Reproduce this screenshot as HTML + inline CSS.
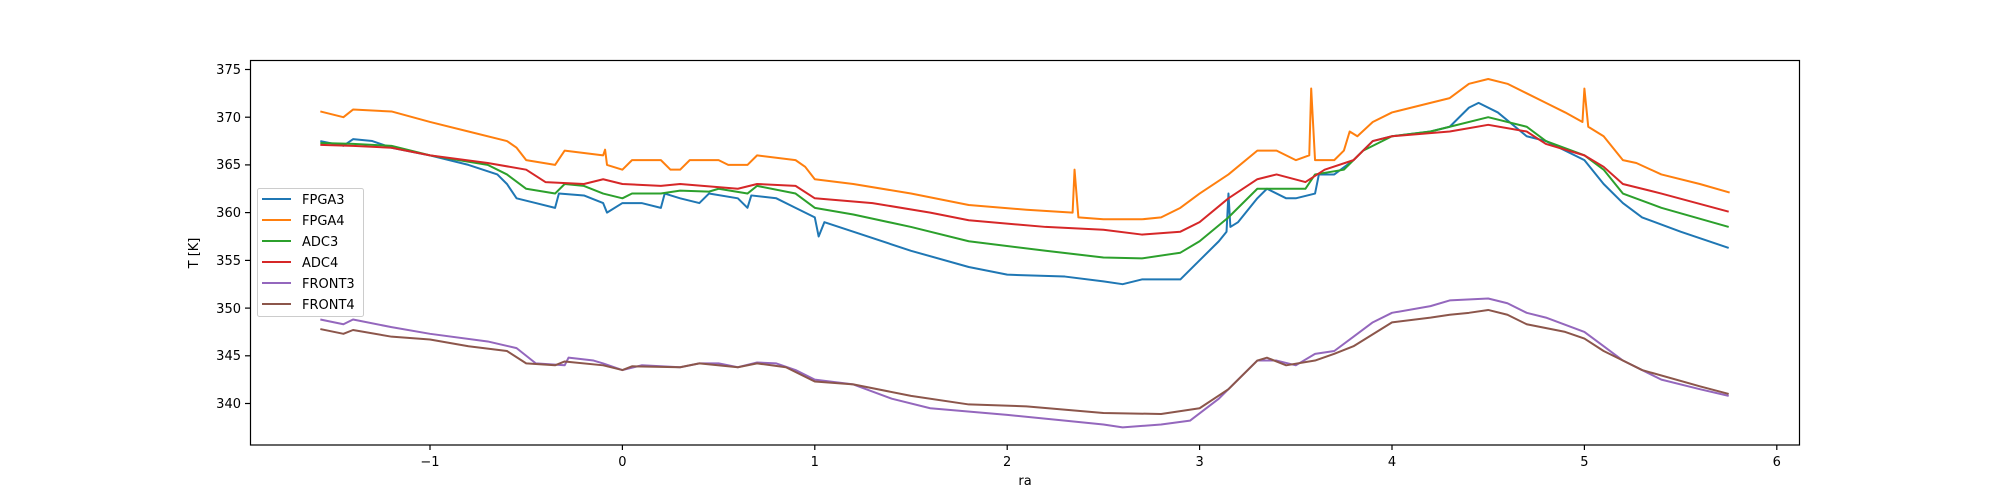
<!DOCTYPE html>
<html><head><meta charset="utf-8"><style>
body{margin:0;background:#fff}
svg{display:block;font-family:"DejaVu Sans","Liberation Sans",sans-serif}
</style></head><body>
<svg width="2000" height="500" viewBox="0 0 2000 500" xmlns="http://www.w3.org/2000/svg">
<rect width="2000" height="500" fill="#fff"/>
<g fill="none" stroke-width="2" stroke-linejoin="round" transform="matrix(192.4,0,0,-9.543,622.4,3648.1)">
<polyline vector-effect="non-scaling-stroke" stroke="#1f77b4" points="-1.57,367.5 -1.45,367 -1.4,367.7 -1.3,367.5 -1.2,366.8 -1,366 -0.8,365 -0.65,364 -0.6,363 -0.55,361.5 -0.45,361 -0.35,360.5 -0.33,362 -0.2,361.8 -0.1,361 -0.08,360 0,361 0.1,361 0.2,360.5 0.22,362 0.3,361.5 0.4,361 0.45,362 0.6,361.5 0.65,360.5 0.67,361.8 0.8,361.5 0.9,360.5 1,359.5 1.02,357.5 1.05,359 1.2,358 1.5,356 1.8,354.3 2,353.5 2.3,353.3 2.5,352.8 2.6,352.5 2.7,353 2.9,353 3,355 3.1,357 3.14,358 3.15,362 3.16,358.5 3.2,359 3.3,361.5 3.35,362.5 3.45,361.5 3.5,361.5 3.6,362 3.62,364 3.7,364 3.8,365.5 3.9,367.5 4,368 4.2,368.5 4.3,369 4.4,371 4.45,371.5 4.55,370.5 4.7,368 4.8,367.5 4.9,366.5 5,365.5 5.1,363 5.2,361 5.3,359.5 5.5,358 5.75,356.3"/>
<polyline vector-effect="non-scaling-stroke" stroke="#ff7f0e" points="-1.57,370.6 -1.45,370 -1.4,370.8 -1.2,370.6 -1,369.5 -0.8,368.5 -0.6,367.5 -0.55,366.8 -0.5,365.5 -0.35,365 -0.3,366.5 -0.1,366 -0.09,366.6 -0.08,365 0,364.5 0.05,365.5 0.2,365.5 0.25,364.5 0.3,364.5 0.35,365.5 0.5,365.5 0.55,365 0.65,365 0.7,366 0.9,365.5 0.95,364.8 1,363.5 1.2,363 1.5,362 1.8,360.8 2.1,360.3 2.34,360 2.35,364.5 2.37,359.5 2.5,359.3 2.7,359.3 2.8,359.5 2.9,360.5 3,362 3.15,364 3.3,366.5 3.4,366.5 3.5,365.5 3.57,366 3.58,373 3.6,365.5 3.7,365.5 3.75,366.5 3.78,368.5 3.82,368 3.9,369.5 4,370.5 4.2,371.5 4.3,372 4.4,373.5 4.5,374 4.6,373.5 4.7,372.5 4.8,371.5 4.9,370.5 4.99,369.5 5,373 5.02,369 5.1,368 5.2,365.5 5.27,365.2 5.4,364 5.6,363 5.755,362.1"/>
<polyline vector-effect="non-scaling-stroke" stroke="#2ca02c" points="-1.57,367.3 -1.4,367.2 -1.2,367 -1,366 -0.7,365 -0.6,364 -0.5,362.5 -0.35,362 -0.3,363 -0.2,362.8 -0.1,362 0,361.5 0.05,362 0.2,362 0.3,362.3 0.45,362.2 0.5,362.5 0.65,362 0.7,362.8 0.9,362 1,360.5 1.2,359.8 1.5,358.5 1.8,357 2.2,356 2.5,355.3 2.7,355.2 2.9,355.8 3,357 3.15,359.5 3.3,362.5 3.4,362.5 3.55,362.5 3.6,364 3.75,364.5 3.85,366.5 4,368 4.2,368.5 4.3,369 4.5,370 4.7,369 4.8,367.5 5,366 5.1,364.5 5.2,362 5.4,360.5 5.75,358.5"/>
<polyline vector-effect="non-scaling-stroke" stroke="#d62728" points="-1.57,367.1 -1.4,367 -1.2,366.8 -1,366 -0.7,365.2 -0.5,364.5 -0.4,363.2 -0.2,363 -0.1,363.5 0,363 0.2,362.8 0.3,363 0.6,362.5 0.7,363 0.9,362.8 1,361.5 1.3,361 1.6,360 1.8,359.2 2.2,358.5 2.5,358.2 2.7,357.7 2.9,358 3,359 3.15,361.5 3.3,363.5 3.4,364 3.55,363.2 3.65,364.5 3.8,365.5 3.9,367.5 4,368 4.3,368.5 4.5,369.2 4.7,368.5 4.8,367.2 5,366 5.1,364.8 5.2,363 5.4,362 5.75,360.1"/>
<polyline vector-effect="non-scaling-stroke" stroke="#9467bd" points="-1.57,348.8 -1.45,348.3 -1.4,348.8 -1.2,348 -1,347.3 -0.7,346.5 -0.55,345.8 -0.45,344.2 -0.3,344 -0.28,344.8 -0.15,344.5 -0.1,344.2 0,343.5 0.1,344 0.3,343.8 0.4,344.2 0.5,344.2 0.6,343.8 0.7,344.3 0.8,344.2 0.9,343.5 1,342.5 1.2,342 1.4,340.5 1.6,339.5 2,338.8 2.3,338.2 2.5,337.8 2.6,337.5 2.8,337.8 2.95,338.2 3.1,340.5 3.3,344.5 3.4,344.5 3.5,344 3.6,345.2 3.7,345.5 3.8,347 3.9,348.5 4,349.5 4.2,350.2 4.3,350.8 4.5,351 4.6,350.5 4.7,349.5 4.8,349 5,347.5 5.1,346 5.2,344.5 5.3,343.5 5.4,342.5 5.6,341.5 5.75,340.8"/>
<polyline vector-effect="non-scaling-stroke" stroke="#8c564b" points="-1.57,347.8 -1.45,347.3 -1.4,347.7 -1.2,347 -1,346.7 -0.8,346 -0.6,345.5 -0.5,344.2 -0.35,344 -0.3,344.4 -0.1,344 0,343.5 0.05,343.9 0.3,343.8 0.4,344.2 0.6,343.8 0.7,344.2 0.85,343.8 1,342.3 1.2,342 1.5,340.8 1.8,339.9 2.1,339.7 2.5,339 2.8,338.9 3,339.5 3.15,341.5 3.3,344.5 3.35,344.8 3.45,344 3.6,344.5 3.7,345.2 3.8,346 4,348.5 4.2,349 4.3,349.3 4.4,349.5 4.5,349.8 4.6,349.3 4.7,348.3 4.9,347.5 5,346.8 5.1,345.5 5.2,344.5 5.3,343.5 5.6,341.8 5.75,341"/>
</g>
<rect x="250.5" y="60.5" width="1549" height="384.5" fill="none" stroke="#000" stroke-width="1.2"/>
<g stroke="#000" stroke-width="1.2">
<line x1="245" y1="69.5" x2="250" y2="69.5"/><line x1="245" y1="117.2" x2="250" y2="117.2"/><line x1="245" y1="164.9" x2="250" y2="164.9"/><line x1="245" y1="212.6" x2="250" y2="212.6"/><line x1="245" y1="260.4" x2="250" y2="260.4"/><line x1="245" y1="308.1" x2="250" y2="308.1"/><line x1="245" y1="355.8" x2="250" y2="355.8"/><line x1="245" y1="403.5" x2="250" y2="403.5"/>
<line x1="430" y1="445" x2="430" y2="450"/><line x1="622.4" y1="445" x2="622.4" y2="450"/><line x1="814.8" y1="445" x2="814.8" y2="450"/><line x1="1007.2" y1="445" x2="1007.2" y2="450"/><line x1="1199.6" y1="445" x2="1199.6" y2="450"/><line x1="1392" y1="445" x2="1392" y2="450"/><line x1="1584.4" y1="445" x2="1584.4" y2="450"/><line x1="1776.8" y1="445" x2="1776.8" y2="450"/>
</g>
<g font-size="13" fill="#000" text-anchor="end">
<text x="241" y="74">375</text><text x="241" y="122">370</text><text x="241" y="169">365</text><text x="241" y="217">360</text><text x="241" y="265">355</text><text x="241" y="313">350</text><text x="241" y="360">345</text><text x="241" y="408">340</text>
</g>
<g font-size="13" fill="#000" text-anchor="middle">
<text x="430" y="466">−1</text><text x="622.4" y="466">0</text><text x="814.8" y="466">1</text><text x="1007.2" y="466">2</text><text x="1199.6" y="466">3</text><text x="1392" y="466">4</text><text x="1584.4" y="466">5</text><text x="1776.8" y="466">6</text>
<text x="1025" y="485">ra</text>
<text transform="translate(198,253) rotate(-90)">T [K]</text>
</g>
<rect x="257.5" y="188.5" width="106" height="128" rx="2" fill="#fff" fill-opacity="0.8" stroke="#ccc"/>
<g stroke-width="2">
<line x1="262" y1="199" x2="291" y2="199" stroke="#1f77b4"/>
<line x1="262" y1="220" x2="291" y2="220" stroke="#ff7f0e"/>
<line x1="262" y1="241" x2="291" y2="241" stroke="#2ca02c"/>
<line x1="262" y1="262" x2="291" y2="262" stroke="#d62728"/>
<line x1="262" y1="283" x2="291" y2="283" stroke="#9467bd"/>
<line x1="262" y1="304" x2="291" y2="304" stroke="#8c564b"/>
</g>
<g font-size="13" fill="#000">
<text x="302" y="204">FPGA3</text><text x="302" y="225">FPGA4</text><text x="302" y="246">ADC3</text><text x="302" y="267">ADC4</text><text x="302" y="288">FRONT3</text><text x="302" y="309">FRONT4</text>
</g>
</svg>
</body></html>
